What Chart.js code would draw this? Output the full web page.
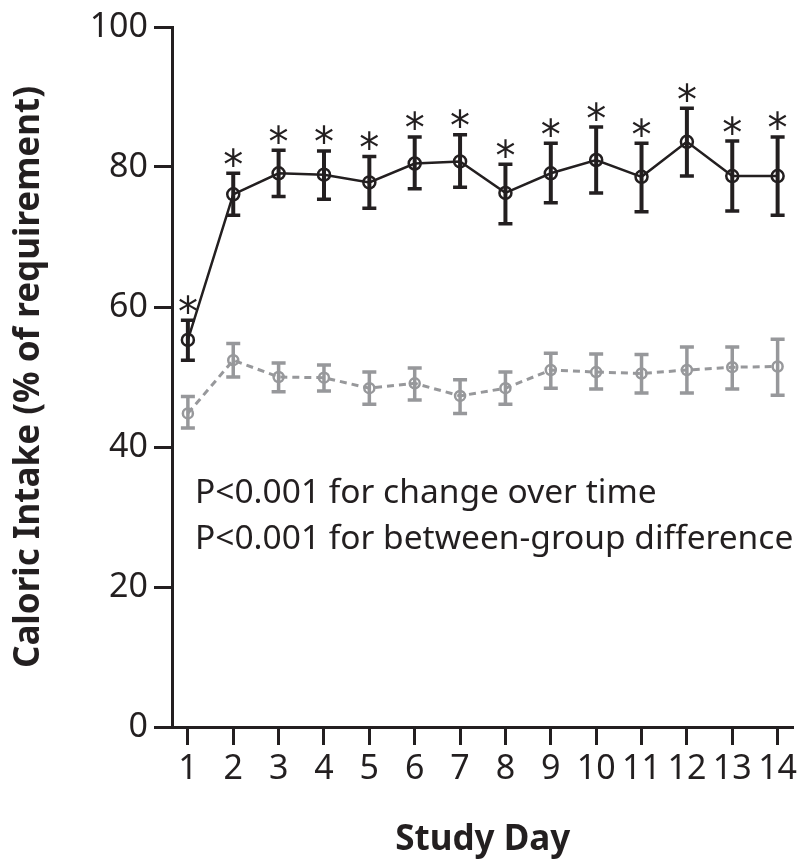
<!DOCTYPE html>
<html>
<head>
<meta charset="utf-8">
<title>Caloric Intake by Study Day</title>
<script src="https://cdn.jsdelivr.net/npm/chart.js@4.4.1/dist/chart.umd.min.js"></script>
<style>
    html, body { margin: 0; padding: 0; background: #ffffff; }
    #wrap { position: relative; width: 802px; height: 860px; }
</style>
</head>
<body>
<div id="wrap"><canvas id="chart-intake"></canvas></div>
<script>
// Study days (x categories)
var days = [1, 2, 3, 4, 5, 6, 7, 8, 9, 10, 11, 12, 13, 14];

// Upper group (solid black line): mean and error bar limits, % of requirement
var blackMean  = [55.3, 76.1, 79.1, 78.9, 77.8, 80.5, 80.8, 76.3, 79.1, 81.0, 78.6, 83.6, 78.7, 78.7];
var blackUpper = [58.1, 79.1, 82.4, 82.3, 81.5, 84.3, 84.6, 80.4, 83.4, 85.7, 83.4, 88.4, 83.7, 84.3];
var blackLower = [52.4, 73.1, 75.8, 75.4, 74.1, 76.9, 77.1, 71.9, 74.9, 76.3, 73.6, 78.7, 73.7, 73.1];

// Lower group (dashed grey line)
var greyMean  = [44.8, 52.4, 50.0, 49.9, 48.4, 49.1, 47.3, 48.4, 51.0, 50.7, 50.5, 51.0, 51.4, 51.5];
var greyUpper = [47.2, 54.8, 52.0, 51.7, 50.7, 51.3, 49.6, 50.7, 53.4, 53.3, 53.2, 54.3, 54.3, 55.4];
var greyLower = [42.7, 50.0, 47.9, 48.0, 46.1, 46.7, 44.8, 46.1, 48.4, 48.3, 47.7, 47.7, 48.3, 47.4];

// Days marked with an asterisk (significant difference)
var starDays = [1, 2, 3, 4, 5, 6, 7, 8, 9, 10, 11, 12, 13, 14];

// Y axis ticks
var yTicks = [0, 20, 40, 60, 80, 100];

// Annotation lines
var noteLines = ['P<0.001 for change over time', 'P<0.001 for between-group difference'];

(function () {
    'use strict';

    var INK = '#231f20';
    var GREY = '#97989b';
    var FONT = '"Noto Sans", "Open Sans", sans-serif';

    function points(means) {
        return days.map(function (d, i) { return { x: d, y: means[i] }; });
    }

    /**
     * Error bars drawn from the upper / lower arrays through the scales.
     */
    var errorBars = {
        id: 'errorBars',
        afterDatasetsDraw: function (chart) {
            var ctx = chart.ctx;
            var xs = chart.scales.x, ys = chart.scales.y;
            chart.data.datasets.forEach(function (ds) {
                var eb = ds.errorBars;
                if (!eb) return;
                ctx.save();
                ctx.strokeStyle = ds.borderColor;
                ctx.lineCap = 'butt';
                days.forEach(function (d, i) {
                    var px = xs.getPixelForValue(d);
                    var top = ys.getPixelForValue(eb.upper[i]);
                    var bot = ys.getPixelForValue(eb.lower[i]);
                    var half = eb.capWidth / 2;
                    ctx.lineWidth = eb.width;
                    ctx.beginPath();
                    ctx.moveTo(px, top);
                    ctx.lineTo(px, bot);
                    ctx.stroke();
                    ctx.lineWidth = eb.capThickness;
                    ctx.beginPath();
                    ctx.moveTo(px - half, top);
                    ctx.lineTo(px + half, top);
                    ctx.moveTo(px - half, bot);
                    ctx.lineTo(px + half, bot);
                    ctx.stroke();
                });
                ctx.restore();
            });
        }
    };

    /**
     * Asterisks above the upper error bar, plus the P value notes.
     */
    var annotations = {
        id: 'annotations',
        afterDraw: function (chart) {
            var ctx = chart.ctx;
            var xs = chart.scales.x, ys = chart.scales.y;
            ctx.save();
            ctx.fillStyle = INK;

            ctx.font = '40px "DejaVu Sans", sans-serif';
            ctx.textAlign = 'center';
            ctx.textBaseline = 'alphabetic';
            var m = ctx.measureText('*');
            var mid = (m.actualBoundingBoxDescent - m.actualBoundingBoxAscent) / 2;
            starDays.forEach(function (d) {
                var i = days.indexOf(d);
                var px = xs.getPixelForValue(d);
                var top = ys.getPixelForValue(blackUpper[i]);
                ctx.fillText('*', px, top - 16 - mid);
            });

            ctx.font = '33.5px ' + FONT;
            ctx.textAlign = 'left';
            var left = chart.chartArea.left + 23;
            var base = chart.chartArea.top + 476;
            noteLines.forEach(function (t, k) {
                ctx.fillText(t, left, base + k * 46);
            });
            ctx.restore();
        }
    };

    new Chart(document.getElementById('chart-intake'), {
        type: 'line',
        data: {
            datasets: [{
                label: 'Group A',
                data: points(blackMean),
                borderColor: INK,
                borderWidth: 2.5,
                pointRadius: 6,
                pointBorderWidth: 2.5,
                pointBorderColor: INK,
                pointBackgroundColor: 'rgba(255,255,255,0)',
                tension: 0,
                errorBars: { upper: blackUpper, lower: blackLower, width: 4, capWidth: 14, capThickness: 3.5 },
            }, {
                label: 'Group B',
                data: points(greyMean),
                borderColor: GREY,
                borderWidth: 3,
                borderDash: [7, 5],
                pointRadius: 5,
                pointBorderWidth: 2.5,
                pointBorderColor: GREY,
                pointBackgroundColor: 'rgba(255,255,255,0)',
                tension: 0,
                errorBars: { upper: greyUpper, lower: greyLower, width: 3.5, capWidth: 14, capThickness: 3.5 },
            }],
        },
        options: {
            responsive: true,
            maintainAspectRatio: false,
            animation: false,
            layout: { padding: { top: 27, right: 2, bottom: 0, left: 0 } },
            plugins: {
                legend: { display: false },
                tooltip: { enabled: false },
            },
            scales: {
                x: {
                    type: 'linear',
                    min: 0.65,
                    max: 14.35,
                    afterBuildTicks: function (scale) {
                        scale.ticks = days.map(function (d) { return { value: d }; });
                    },
                    afterFit: function (scale) { scale.height = 133; },
                    grid: {
                        drawOnChartArea: false,
                        drawTicks: true,
                        tickLength: 18,
                        tickColor: INK,
                        tickWidth: 3,
                    },
                    border: { display: true, color: INK, width: 3 },
                    ticks: {
                        color: INK,
                        padding: 4,
                        maxRotation: 0,
                        autoSkip: false,
                        font: { family: FONT, size: 34, lineHeight: 1.2 },
                    },
                    title: {
                        display: true,
                        text: 'Study Day',
                        color: INK,
                        padding: { top: 0, bottom: 2 },
                        font: { family: FONT, size: 35, weight: 'bold', lineHeight: 1.0 },
                    },
                },
                y: {
                    min: 0,
                    max: 100,
                    afterBuildTicks: function (scale) {
                        scale.ticks = yTicks.map(function (v) { return { value: v }; });
                    },
                    afterFit: function (scale) { scale.width = 172; },
                    grid: {
                        drawOnChartArea: false,
                        drawTicks: true,
                        tickLength: 18,
                        tickColor: INK,
                        tickWidth: 3,
                    },
                    border: { display: true, color: INK, width: 3 },
                    ticks: {
                        color: INK,
                        padding: 6,
                        font: { family: FONT, size: 34, lineHeight: 1.2 },
                    },
                    title: {
                        display: true,
                        text: 'Caloric Intake (% of requirement)',
                        color: INK,
                        padding: { top: 12, bottom: 0 },
                        font: { family: FONT, size: 35, weight: 'bold', lineHeight: 1.0 },
                    },
                },
            },
        },
        plugins: [errorBars, annotations],
    });
})();
</script>
</body>
</html>
